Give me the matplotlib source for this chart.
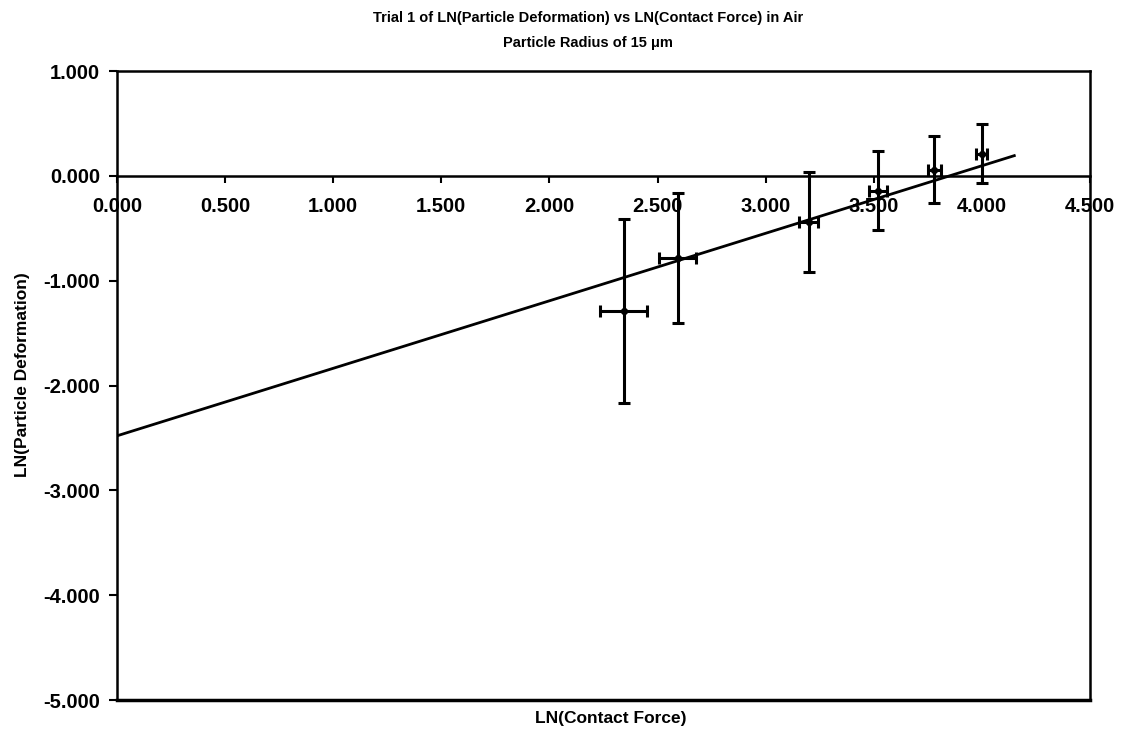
import matplotlib.pyplot as plt
import numpy as np

# Data (natural logs).
ln_force = [2.343, 2.593, 3.200, 3.520, 3.780, 4.000]
ln_deform = [-1.29, -0.785, -0.44, -0.14, 0.06, 0.21]
force_err = [0.107, 0.086, 0.044, 0.040, 0.030, 0.025]
deform_err = [0.88, 0.62, 0.48, 0.38, 0.32, 0.28]

# Trend line as drawn.
fit_intercept = -2.48
fit_slope = 0.644
fit_x_end = 4.15

x_ticks = [0.0, 0.5, 1.0, 1.5, 2.0, 2.5, 3.0, 3.5, 4.0, 4.5]
y_ticks = [1.0, 0.0, -1.0, -2.0, -3.0, -4.0, -5.0]

plt.rcParams['font.family'] = ['Liberation Sans', 'DejaVu Sans']
plt.rcParams['font.weight'] = 'bold'

fig = plt.figure(figsize=(11.26, 7.35), dpi=100)
ax = fig.add_axes([0.1039, 0.0476, 0.968 - 0.1039, 0.9034 - 0.0476])

# Trend line.
xs_line = np.array([0.0, fit_x_end])
ax.plot(xs_line, fit_intercept + fit_slope * xs_line, color='black', linewidth=2)

# Data with error bars.
ax.errorbar(ln_force, ln_deform, xerr=force_err, yerr=deform_err,
            fmt='D', color='black', markersize=4, elinewidth=2.2,
            capsize=4.5, capthick=2.2)

ax.set_xlim(0, 4.5)
ax.set_ylim(-5, 1)

# x axis crosses at zero, keep the box border at the bottom.
ax.spines['bottom'].set_position(('data', 0))
ax.axhline(-5, color='black', linewidth=2.5, clip_on=False)
for side in ['top', 'right', 'left', 'bottom']:
    ax.spines[side].set_linewidth(1.8)

ax.set_xticks(x_ticks)
ax.set_yticks(y_ticks)
ax.set_xticklabels([f"{v:.3f}" for v in x_ticks])
ax.set_yticklabels([f"{v:.3f}" for v in y_ticks])
ax.tick_params(axis='x', direction='out', length=5, width=1.5, pad=10, labelsize=14.5)
ax.tick_params(axis='y', direction='out', length=6, width=1.5, pad=6, labelsize=14.5)

fig.text(0.522, 0.975, "Trial 1 of LN(Particle Deformation) vs LN(Contact Force) in Air",
         ha='center', va='center', fontsize=10.5, fontweight='bold')
fig.text(0.522, 0.942, "Particle Radius of 15 \u03bcm",
         ha='center', va='center', fontsize=10.5, fontweight='bold')

fig.text(0.02, 0.49, "LN(Particle Deformation)", rotation=90,
         ha='center', va='center', fontsize=12.5, fontweight='bold')
fig.text(0.542, 0.023, "LN(Contact Force)",
         ha='center', va='center', fontsize=12.5, fontweight='bold')

fig.savefig('out.png', dpi=100)
